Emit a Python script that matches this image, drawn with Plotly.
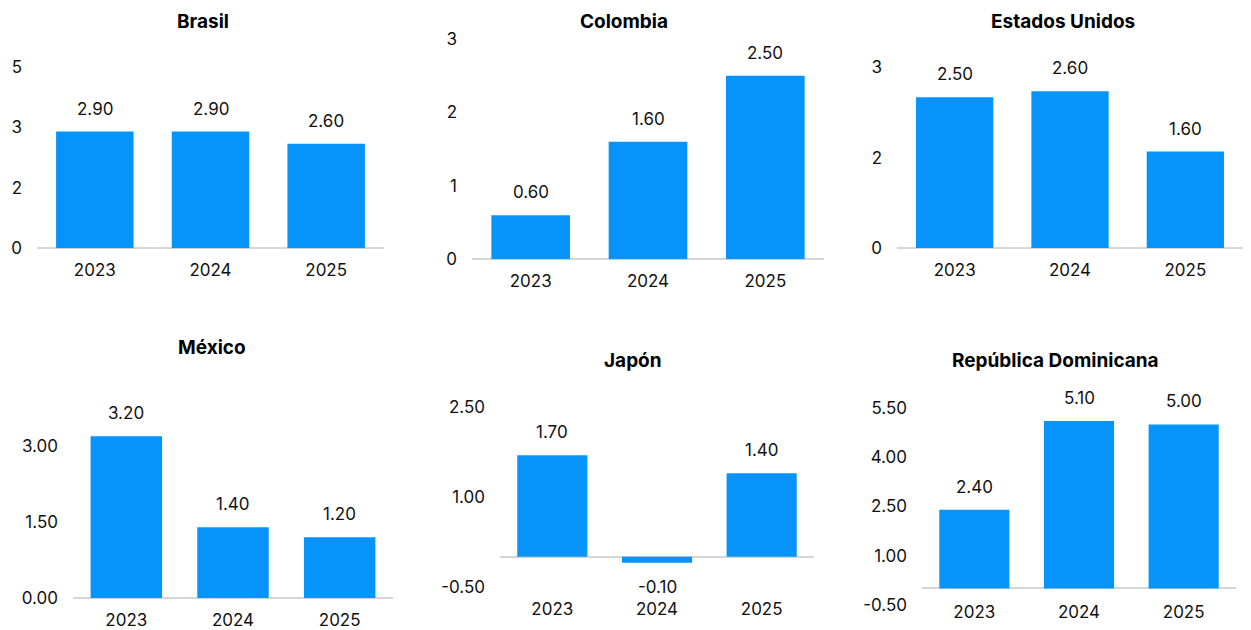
import plotly.graph_objects as go

# figure placed inside the page body (8px margin); vertical placement calibrated
OFFX = 8
W, H = 1251 - 2 * OFFX, 630
SY, TY = 0.977, 12.7   # observed: screen_y = SY * fig_y + TY

years = ["2023", "2024", "2025"]
countries = ["Brasil", "Colombia", "Estados Unidos", "México", "Japón", "República Dominicana"]

brasil = [2.9, 2.9, 2.6]
colombia = [0.6, 1.6, 2.5]
estados_unidos = [2.5, 2.6, 1.6]
mexico = [3.2, 1.4, 1.2]
japon = [1.7, -0.1, 1.4]
rep_dom = [2.4, 5.1, 5.0]

brasil_tickvals = [0, 1.5, 3, 4.5]
brasil_ticktext = ["0", "2", "3", "5"]
colombia_tickvals = [0, 1, 2, 3]
colombia_ticktext = ["0", "1", "2", "3"]
eeuu_tickvals = [0, 1.5, 3]
eeuu_ticktext = ["0", "2", "3"]
mexico_tickvals = [0, 1.5, 3.0]
mexico_ticktext = ["0.00", "1.50", "3.00"]
japon_tickvals = [-0.5, 1.0, 2.5]
japon_ticktext = ["-0.50", "1.00", "2.50"]
rd_tickvals = [-0.5, 1.0, 2.5, 4.0, 5.5]
rd_ticktext = ["-0.50", "1.00", "2.50", "4.00", "5.50"]

series = [brasil, colombia, estados_unidos, mexico, japon, rep_dom]
tickvals = [brasil_tickvals, colombia_tickvals, eeuu_tickvals, mexico_tickvals, japon_tickvals, rd_tickvals]
ticktexts = [brasil_ticktext, colombia_ticktext, eeuu_ticktext, mexico_ticktext, japon_ticktext, rd_ticktext]

# layout in screen pixels: x0, x1, y_top, y_bottom, y range, title centre, x-label standoff
panels = [
    dict(x0=37, x1=384, top=61, bottom=247, rng=[0, 4.6], tx=203, ty=19, xs=10),
    dict(x0=472, x1=824, top=33, bottom=258, rng=[0, 3.05], tx=624, ty=19, xs=10),
    dict(x0=897, x1=1243, top=62, bottom=246.7, rng=[0, 3.05], tx=1063, ty=19, xs=10),
    dict(x0=73, x1=393, top=415.5, bottom=598, rng=[0, 3.6], tx=212, ty=347, xs=10),
    dict(x0=500, x1=814, top=403.7, bottom=586.7, rng=[-0.5, 2.55], tx=633, ty=360, xs=10),
    dict(x0=922, x1=1236, top=404, bottom=605, rng=[-0.5, 5.6], tx=1055, ty=360, xs=-5),
]


def px_x(v):
    return min(max((v - OFFX) / W, 0), 1)


def px_y(v):
    fy = (v - TY) / SY
    return min(max(1 - fy / H, 0), 1)


BLUE = "#0694fa"
FONT = "Inter"
TXT = "#111111"
FS = 17

fig = go.Figure()
annotations = []
for i, (name, vals, tv, tt, p) in enumerate(zip(countries, series, tickvals, ticktexts, panels)):
    n = "" if i == 0 else str(i + 1)
    fig.add_trace(go.Bar(x=years, y=vals, marker=dict(color=BLUE, line=dict(width=0)),
                         xaxis="x" + n, yaxis="y" + n, showlegend=False, hoverinfo="x+y"))
    fig.layout["xaxis" + n] = dict(
        domain=[px_x(p["x0"]), px_x(p["x1"])], anchor="y" + n, type="category",
        range=[-0.5, len(years) - 0.5],
        showgrid=False, showline=False, zeroline=False, ticks="",
        tickfont=dict(family=FONT, size=FS, color=TXT), ticklabelstandoff=p["xs"],
    )
    fig.layout["yaxis" + n] = dict(
        domain=[px_y(p["bottom"]), px_y(p["top"])], anchor="x" + n,
        range=p["rng"], showgrid=False, showline=False, ticks="",
        zeroline=True, zerolinecolor="#d6d6d6", zerolinewidth=2,
        tickvals=tv, ticktext=tt, ticklabelstandoff=14,
        tickfont=dict(family=FONT, size=FS, color=TXT),
    )
    for j, v in enumerate(vals):
        annotations.append(dict(
            x=j, y=v, xref="x" + n, yref="y" + n, text=f"{v:.2f}", showarrow=False,
            yshift=23 if v >= 0 else -24, font=dict(family=FONT, size=FS, color=TXT),
        ))
    annotations.append(dict(
        x=px_x(p["tx"]), y=px_y(p["ty"]), xref="paper", yref="paper", text=f"<b>{name}</b>",
        showarrow=False, xanchor="center", yanchor="middle",
        font=dict(family=FONT, size=19, color="#000000"),
    ))

fig.update_layout(
    width=W, height=H, margin=dict(l=0, r=0, t=0, b=0),
    paper_bgcolor="white", plot_bgcolor="white", bargap=0.33,
    annotations=annotations, font=dict(family=FONT, size=FS, color=TXT),
)

fig.write_html("out.html")
